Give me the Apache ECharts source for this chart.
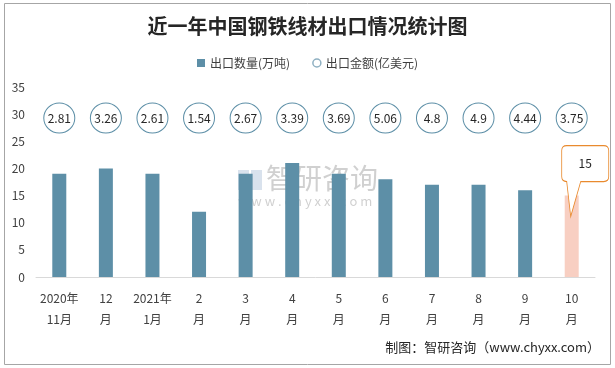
<!DOCTYPE html>
<html>
<head>
<meta charset="utf-8">
<script src="https://cdn.jsdelivr.net/npm/echarts@6/dist/echarts.min.js"></script>
<style>
html,body{margin:0;padding:0;background:#fff;}
#c{width:615px;height:368px;}
</style>
</head>
<body>
<div id="c"></div>
<script>
// ---- data ----
const categories = ['2020年\n11月','12\n月','2021年\n1月','2\n月','3\n月','4\n月','5\n月','6\n月','7\n月','8\n月','9\n月','10\n月'];
const exportQty = [19, 20, 19, 12, 19, 21, 19, 18, 17, 17, 16, 15];          // 出口数量(万吨)
const exportAmount = [2.81, 3.26, 2.61, 1.54, 2.67, 3.39, 3.69, 5.06, 4.8, 4.9, 4.44, 3.75]; // 出口金额(亿美元)
const yTicks = [0, 5, 10, 15, 20, 25, 30, 35];
const amountRow = 29.3; // level of the amount badge row (y units)

const FONT = '"Noto Sans CJK SC", "Noto Sans", sans-serif';
const BLUE = '#5d8fa7';
const PINK = '#f8cfc2';
const ORANGE = '#e98a2e';

const chart = echarts.init(document.getElementById('c'), null, {renderer: 'canvas'});
const lastIdx = exportQty.length - 1;

const calloutPath = 'path://M5,0 L42,0 Q47,0 47,5 L47,31 Q47,36 42,36 L19,36 L9,71 L5,36 Q0,36 0,31 L0,5 Q0,0 5,0 Z';

chart.setOption({
  animation: false,
  backgroundColor: '#ffffff',
  textStyle: {fontFamily: FONT},
  title: {
    text: '近一年中国钢铁线材出口情况统计图',
    left: 'center',
    top: 11,
    textStyle: {fontSize: 20, fontWeight: 'bold', color: '#262626', fontFamily: FONT}
  },
  legend: {
    top: 52,
    left: 'center',
    itemGap: 22,
    itemWidth: 8,
    itemHeight: 8,
    textStyle: {fontSize: 12, color: '#404040', fontFamily: FONT},
    data: [
      {name: '出口数量(万吨)', icon: 'rect', itemStyle: {color: BLUE}},
      {name: '出口金额(亿美元)', icon: 'circle', itemStyle: {color: '#fff', borderColor: '#8fb0c2', borderWidth: 1.5}}
    ]
  },
  grid: {left: 36, right: 20, top: 87, bottom: 91, containLabel: false},
  xAxis: {
    type: 'category',
    data: categories,
    axisLine: {lineStyle: {color: '#d9d9d9', width: 1}},
    axisTick: {show: false},
    axisLabel: {interval: 0, fontSize: 12, color: '#404040', lineHeight: 21, margin: 11, fontFamily: FONT}
  },
  yAxis: {
    type: 'value',
    min: yTicks[0],
    max: yTicks[yTicks.length - 1],
    interval: yTicks[1] - yTicks[0],
    axisLine: {show: false},
    axisTick: {show: false},
    splitLine: {show: false},
    axisLabel: {fontSize: 12, color: '#404040', margin: 11, fontFamily: FONT}
  },
  series: [
    {
      name: '出口数量(万吨)',
      type: 'bar',
      barWidth: 14,
      z: 3,
      data: exportQty.map((v, i) => ({
        value: v,
        itemStyle: {color: i === lastIdx ? PINK : BLUE}
      })),
      itemStyle: {color: BLUE},
      markPoint: {
        symbol: calloutPath,
        symbolSize: [47, 71],
        symbolOffset: [13.5, -14.5],
        itemStyle: {color: '#ffffff', borderColor: ORANGE, borderWidth: 1},
        label: {show: true, position: 'inside', offset: [0, -17.5], color: '#262626', fontSize: 12, fontFamily: FONT,
                formatter: p => p.value},
        data: [{coord: [lastIdx, exportQty[lastIdx]], value: exportQty[lastIdx]}]
      }
    },
    {
      name: '出口金额(亿美元)',
      type: 'scatter',
      symbol: 'circle',
      symbolSize: [31, 30],
      itemStyle: {color: '#ffffff', borderColor: BLUE, borderWidth: 1, opacity: 1},
      label: {show: true, position: 'inside', color: '#262626', fontSize: 12, fontFamily: FONT,
              formatter: p => String(p.data.amount)},
      data: exportAmount.map((a, i) => ({value: [i, amountRow], amount: a})),
      z: 5
    }
  ],
  graphic: [
    {type: 'rect', shape: {x: 4.5, y: 3.5, width: 606, height: 361}, style: {fill: 'none', stroke: '#a6a6a6', lineWidth: 1}, silent: true, z: -10},
    {type: 'group', left: 238, top: 164, silent: true, z: -5, children: [
      {type: 'rect', shape: {x: 0, y: 2, width: 11, height: 20}, style: {fill: 'rgba(120,150,190,0.28)'}},
      {type: 'rect', shape: {x: 13, y: 2, width: 11, height: 20}, style: {fill: 'rgba(120,150,190,0.28)'}},
      {type: 'text', style: {x: 28, y: -4, text: '智研咨询', fill: 'rgba(150,150,150,0.45)', font: '28px ' + FONT}},
      {type: 'text', style: {x: 0, y: 27, text: 'w w w . c h y x x . c o m', fill: 'rgba(150,150,150,0.45)', font: '13px ' + FONT}}
    ]},
    {type: 'text', right: 15, top: 341, style: {text: '制图：智研咨询（www.chyxx.com）', fill: '#262626', font: '13px ' + FONT}, silent: true}
  ]
});
</script>
</body>
</html>
